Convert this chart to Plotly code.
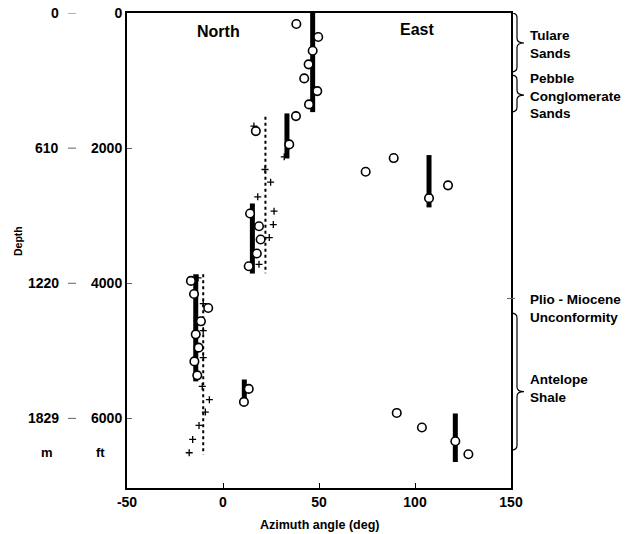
import plotly.graph_objects as go

# ---------------- data (azimuth deg, depth ft) ----------------
# thick bars: azimuth, top depth, bottom depth
bar_az = [46.7, 33.3, 15.3, -14.2, 11.1, 107.3, 121.0]
bar_top = [0, 1486, 2819, 3867, 5424, 2103, 5927]
bar_bot = [1467, 2153, 3856, 5452, 5756, 2877, 6645]

# open circles
circ_az = [38.2, 49.6, 46.7, 44.6, 42.3, 49.1, 44.8,
           38.0, 34.5, 17.1,
           14.1, 18.75, 19.6, 17.6, 13.4,
           -16.7, -15.1, -7.7, -11.5, -14.2, -12.7, -14.9, -13.4,
           13.4, 10.9,
           74.3, 88.9, 107.3, 117.2,
           90.5, 103.6, 121.0, 127.8]
circ_depth = [163, 356, 558, 760, 968, 1156, 1353,
              1526, 1945, 1748,
              2968, 3156, 3353, 3560, 3748,
              3965, 4158, 4366, 4563, 4756, 4953, 5156, 5363,
              5563, 5756,
              2350, 2147, 2740, 2551,
              5919, 6135, 6338, 6530]

# plus markers
plus_az = [31.9, 16.1, 21.9, 24.8, 18.1, 26.6, 26.2, 24.1, 18.75,
           -13.0, -10.3, -10.3, -10.3,
           -10.8, -7.1, -9.2, -12.5, -15.8, -17.6]
plus_depth = [2129, 1674, 2316, 2504, 2721, 2933, 3131, 3323, 3719,
              3921, 4300, 4700, 5100,
              5526, 5723, 5906, 6104, 6311, 6508]

# dotted mean lines: azimuth, top, bottom
dot_az = [22.1, -10.3]
dot_top = [1536, 3867]
dot_bot = [3852, 6533]

# axis ticks
x_ticks = [-50, 0, 50, 100, 150]
x_ticktext = ["-50", "0", "50", "100", "150"]
ft_ticks = [0, 2000, 4000, 6000]
m_labels = ["0", "610", "1220", "1829"]

# formations: name, top depth, bottom depth, brace tip depth, label depth
form_names = ["Tulare<br>Sands", "Pebble<br>Conglomerate<br>Sands", "Antelope<br>Shale"]
form_top = [0, 918, 4443]
form_bot = [874, 1466, 6471]
form_tip = [444, 1214, 5604]
form_label = [470, 1230, 5560]

FONT = "Liberation Sans, Arial, sans-serif"

fig = go.Figure()

# thick bars
bx, by = [], []
for a, t, b in zip(bar_az, bar_top, bar_bot):
    bx += [a, a, None]
    by += [t, b, None]
fig.add_trace(go.Scatter(x=bx, y=by, mode="lines",
                         line=dict(color="black", width=5), hoverinfo="skip"))

# dotted lines
dx, dy = [], []
for a, t, b in zip(dot_az, dot_top, dot_bot):
    dx += [a, a, None]
    dy += [t, b, None]
fig.add_trace(go.Scatter(x=dx, y=dy, mode="lines",
                         line=dict(color="black", width=2, dash="dot")))

# plus markers
fig.add_trace(go.Scatter(x=plus_az, y=plus_depth, mode="markers",
                         marker=dict(symbol="cross-thin", size=5,
                                     line=dict(color="black", width=1.3))))

# circles
fig.add_trace(go.Scatter(x=circ_az, y=circ_depth, mode="markers",
                         marker=dict(symbol="circle", size=8.5, color="white",
                                     line=dict(color="black", width=1.6))))

W_PLOT = 384.0
H_PLOT = 475.0
def px2paper(px):
    return (px - 127) / W_PLOT

shapes = []
annotations = []

def bold(size):
    return dict(family=FONT, size=size, color="black", weight="bold")

# metre labels and small dashes
for ft, m in zip(ft_ticks, m_labels):
    annotations.append(dict(x=px2paper(61), y=ft, xref="paper", yref="y",
                            text=m, showarrow=False, xanchor="right",
                            yanchor="middle", font=bold(14)))
    shapes.append(dict(type="line", xref="paper", yref="y",
                       x0=px2paper(68), x1=px2paper(76), y0=ft, y1=ft,
                       line=dict(color="#666", width=1)))

annotations.append(dict(x=px2paper(47), y=6510, xref="paper", yref="y",
                        text="m", showarrow=False, xanchor="center",
                        yanchor="middle", font=bold(13)))
annotations.append(dict(x=px2paper(100), y=6510, xref="paper", yref="y",
                        text="ft", showarrow=False, xanchor="center",
                        yanchor="middle", font=bold(13)))

annotations.append(dict(x=px2paper(18), y=3374, xref="paper", yref="y",
                        text="Depth", showarrow=False, textangle=-90,
                        xanchor="center", yanchor="middle", font=bold(10.5)))

annotations.append(dict(x=0.5, y=-37 / H_PLOT, xref="paper", yref="paper",
                        text="Azimuth angle (deg)", showarrow=False,
                        xanchor="center", yanchor="middle", font=bold(12.5)))

annotations.append(dict(x=-2.3, y=281, xref="x", yref="y", text="North",
                        showarrow=False, xanchor="center", yanchor="middle",
                        font=bold(16)))
annotations.append(dict(x=101, y=250, xref="x", yref="y", text="East",
                        showarrow=False, xanchor="center", yanchor="middle",
                        font=bold(16)))

# braces
r = 70
x0 = 1.0
x1 = 1.0 + 6 / W_PLOT
x2 = 1.0 + 13 / W_PLOT
for name, t, b, ym, yl in zip(form_names, form_top, form_bot, form_tip, form_label):
    path = (f"M {x0},{t} Q {x1},{t} {x1},{t + r} L {x1},{ym - r} "
            f"Q {x1},{ym} {x2},{ym} Q {x1},{ym} {x1},{ym + r} "
            f"L {x1},{b - r} Q {x1},{b} {x0},{b}")
    shapes.append(dict(type="path", xref="paper", yref="y", path=path,
                       line=dict(color="black", width=1.2)))
    annotations.append(dict(x=1.0 + 17 / W_PLOT, y=yl, xref="paper", yref="y",
                            text=name, showarrow=False, xanchor="left",
                            yanchor="middle", align="left", font=bold(13.5)))

# unconformity marker and label
shapes.append(dict(type="line", xref="paper", yref="y",
                   x0=1.0 - 4 / W_PLOT, x1=1.0 + 4 / W_PLOT, y0=4225, y1=4225,
                   line=dict(color="#666", width=1)))
annotations.append(dict(x=1.0 + 17 / W_PLOT, y=4380, xref="paper", yref="y",
                        text="Plio - Miocene<br>Unconformity", showarrow=False,
                        xanchor="left", yanchor="middle", align="left",
                        font=bold(13.5)))

fig.update_layout(
    width=640, height=534,
    margin=dict(l=127, r=129, t=13, b=46),
    paper_bgcolor="white", plot_bgcolor="white",
    showlegend=False,
    shapes=shapes, annotations=annotations,
)
fig.update_xaxes(range=[-50, 150], tickvals=x_ticks, ticktext=x_ticktext,
                 ticks="inside", ticklen=5, tickcolor="black",
                 showgrid=False, zeroline=False, automargin=False,
                 showline=True, linecolor="black", linewidth=2, mirror=True,
                 tickfont=bold(14))
fig.update_yaxes(range=[7030, 0], tickvals=ft_ticks,
                 ticks="inside", ticklen=5, tickcolor="#666",
                 showgrid=False, zeroline=False, automargin=False,
                 showline=True, linecolor="black", linewidth=2, mirror=True,
                 tickfont=bold(14))

fig.write_html("out.html")
